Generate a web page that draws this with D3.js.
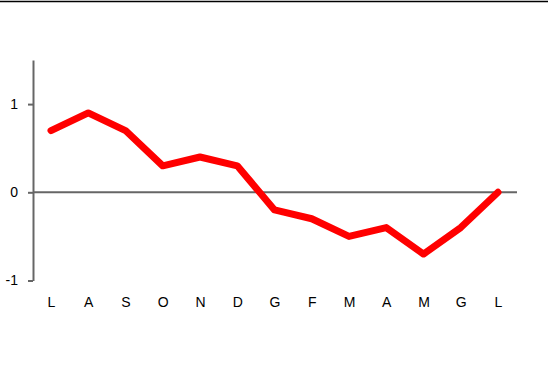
<!DOCTYPE html>
<html lang="en">
<head>
  <meta charset="UTF-8">
  <title>Line chart</title>
  <style>
    body {
      margin: 0;
      background: #fff;
      font-family: Arial, 'Liberation Sans', sans-serif;
    }
    .axis text {
      font-size: 14px;
      fill: #000;
    }
    .axis path, .axis line {
      stroke: #666;
      stroke-width: 2px;
    }
  </style>
  <script src="https://d3js.org/d3.v7.min.js"></script>
</head>
<body>
  <svg id="chart" width="550" height="370"></svg>
  <script>
    // month initials, July to July
    const months = ["L", "A", "S", "O", "N", "D", "G", "F", "M", "A", "M", "G", "L"];
    const values = [0.7, 0.9, 0.7, 0.3, 0.4, 0.3, -0.2, -0.3, -0.5, -0.4, -0.7, -0.4, 0.0];
    const yTicks = [-1, 0, 1];

    const svg = d3.select("#chart");

    // thin rule along the top
    svg.append("line")
      .attr("x1", 0).attr("x2", 548)
      .attr("y1", 1.5).attr("y2", 1.5)
      .attr("stroke", "#000")
      .attr("stroke-width", 1.5);

    const x = d3.scalePoint()
      .domain(d3.range(months.length))
      .range([51, 498]);

    const y = d3.scaleLinear()
      .domain([-1, 1.5])
      .range([280.5, 60]);

    // y axis (plain hyphen for negatives, like the original)
    svg.append("g")
      .attr("class", "axis")
      .attr("transform", "translate(33,0)")
      .call(d3.axisLeft(y).tickValues(yTicks).tickFormat(d => String(d)).tickSize(5).tickSizeOuter(0).tickPadding(10));

    // zero line
    svg.append("line")
      .attr("x1", 33).attr("x2", 517)
      .attr("y1", y(0)).attr("y2", y(0))
      .attr("stroke", "#666")
      .attr("stroke-width", 2);

    // x labels
    svg.append("g")
      .attr("class", "axis")
      .attr("transform", "translate(0,290)")
      .call(d3.axisBottom(x).tickFormat(i => months[i]).tickSize(0).tickPadding(7.5))
      .call(g => g.select(".domain").remove());

    const line = d3.line()
      .x((d, i) => x(i))
      .y(d => y(d));

    svg.append("path")
      .datum(values)
      .attr("fill", "none")
      .attr("stroke", "#ff0000")
      .attr("stroke-width", 7)
      .attr("stroke-linecap", "round")
      .attr("stroke-linejoin", "round")
      .attr("d", line);
  </script>
</body>
</html>
